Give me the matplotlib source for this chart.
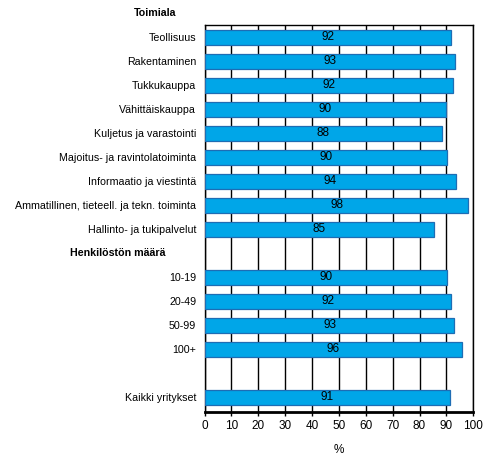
import numpy as np
import matplotlib.pyplot as plt
from matplotlib.transforms import blended_transform_factory

plt.rcParams['font.family'] = ['Liberation Sans', 'DejaVu Sans']
plt.rcParams['font.size'] = 7.7

#%% data
categories = ['Teollisuus', 'Rakentaminen', 'Tukkukauppa', 'Vähittäiskauppa',
              'Kuljetus ja varastointi', 'Majoitus- ja ravintolatoiminta',
              'Informaatio ja viestintä', 'Ammatillinen, tieteell. ja tekn. toiminta',
              'Hallinto- ja tukipalvelut', '',
              '10-19', '20-49', '50-99', '100+', '', 'Kaikki yritykset']
values = [91.8, 93.2, 92.4, 89.7, 88.2, 90.3, 93.7, 98.2, 85.4, np.nan,
          90.3, 91.8, 93.0, 95.8, np.nan, 91.4]
headers = ['Toimiala', 'Henkilöstön määrä']
header_rows = [-1, 9]
header_x = [-0.262, -0.5]   # in axes fraction

#%% plot
fig = plt.figure(figsize=(4.93, 4.73), dpi=100)
ax = fig.add_axes([0.415, 0.130, 0.545, 0.817])

y = np.arange(len(categories))
bars = ax.barh(y, values, height=0.63, color='#00A6E8', edgecolor='#1E6DB4',
               linewidth=0.9, zorder=3)
for yi, v in zip(y, values):
    if not np.isnan(v):
        ax.text(v / 2, yi, '%d' % round(v), ha='center', va='center',
                fontsize=8.5, zorder=4)

ax.set_xlim(0, 100)
ax.set_ylim(15.6, -0.5)
ax.set_xticks(np.arange(0, 101, 10))
ax.set_yticks(y)
ax.set_yticklabels(categories)
ax.tick_params(axis='y', length=0, pad=6)
ax.tick_params(axis='x', length=3, width=1, direction='out', pad=3, labelsize=8.5)
ax.xaxis.grid(True, color='black', linewidth=1)
ax.set_axisbelow(True)
for s in ax.spines.values():
    s.set_linewidth(1)
ax.spines['bottom'].set_linewidth(2)
ax.set_xlabel('%', labelpad=9, fontsize=8.5)

tr = blended_transform_factory(ax.transAxes, ax.transData)
for h, r, hx in zip(headers, header_rows, header_x):
    ax.text(hx, r, h, transform=tr, fontweight='bold', ha='left', va='center')

fig.savefig('out.png', dpi=100)
